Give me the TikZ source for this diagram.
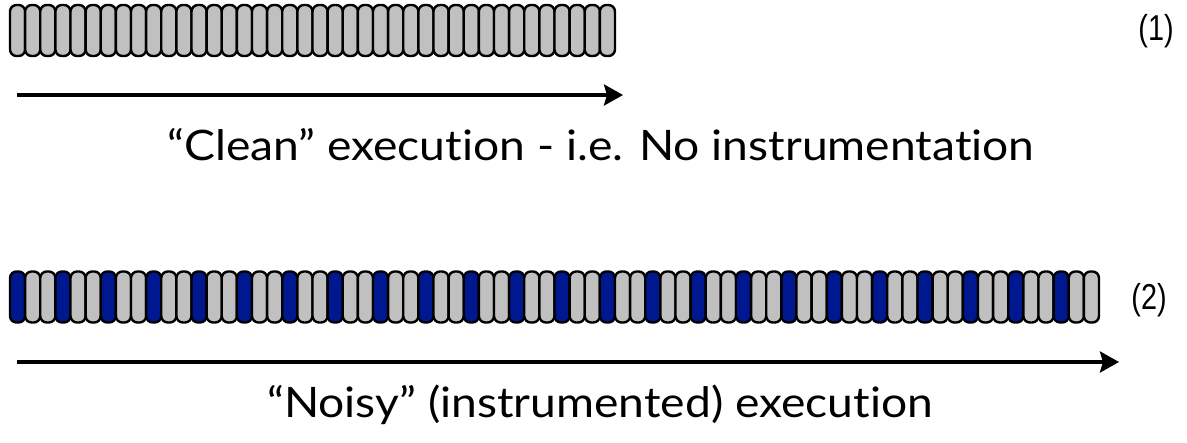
\documentclass[tikz,border=0pt]{standalone}
\usepackage{fontspec}
\setmainfont{Lato}[Ligatures=NoCommon, FakeStretch=1.1]
\newfontfamily\tagfont{Liberation Sans}[FakeStretch=0.8]
\usetikzlibrary{arrows.meta}
\definecolor{slotgray}{HTML}{C0C0C0}
\definecolor{slotblue}{HTML}{00188F}
\begin{document}
\begin{tikzpicture}[x=1pt,y=-1pt,
  slot/.style={draw=black, line width=2.4pt, rounded corners=6.5pt,
    minimum width=15.125pt, minimum height=51pt, inner sep=0pt, fill=slotgray},
  noise/.style={slot, fill=slotblue},
  timeline/.style={line width=3.6pt, -{Stealth[length=19pt,width=21pt,inset=3pt]}},
  caption/.style={font=\fontsize{42}{50}\selectfont, inner sep=0pt, anchor=base},
  tag/.style={font=\fontsize{36}{40}\selectfont\tagfont, inner sep=0pt}]
\useasboundingbox (0,0) rectangle (1187,443);

% clean run: 40 uniform slots
\foreach \i in {1,...,40}
  \node[slot] (c\i) at ({10+15.125*(\i-0.5)},30.5) {};

% instrumented run: every third slot is instrumentation
\foreach \i in {1,...,72}{
  \pgfmathtruncatemacro\r{mod(\i-1,3)}
  \ifnum\r=0
    \node[noise] (n\i) at ({10+15.125*(\i-0.5)},297) {};
  \else
    \node[slot] (n\i) at ({10+15.125*(\i-0.5)},297) {};
  \fi
}

\coordinate (a1s) at (17,95);
\coordinate (a1e) at (623,95);
\coordinate (a2s) at (17,362);
\coordinate (a2e) at (1119,362);
\draw[timeline] (a1s) -- (a1e);
\draw[timeline] (a2s) -- (a2e);

\node[caption] (cap1) at (601,161) {“Clean” execution - i.e. No instrumentation};
\node[caption] (cap2) at (600,418) {“Noisy” (instrumented) execution};

\node[tag] (t1) at (1156,31) {(1)};
\node[tag] (t2) at (1149,300) {(2)};
\end{tikzpicture}
\end{document}
